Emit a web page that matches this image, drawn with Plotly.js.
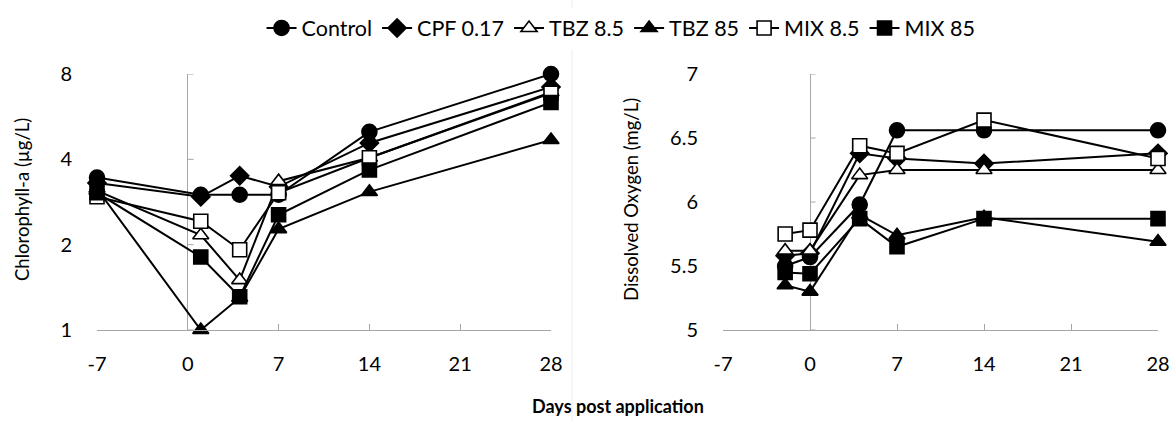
<!DOCTYPE html>
<html>
<head>
<meta charset="utf-8">
<script src="https://cdn.plot.ly/plotly-3.0.1.min.js"></script>
<style>html,body{margin:0;padding:0;background:#fff;}#chart{width:1174px;height:421px;}</style>
</head>
<body>
<div id="chart"></div>
<script>
// ---- data ----
const seriesNames = ["Control", "CPF 0.17", "TBZ 8.5", "TBZ 85", "MIX 8.5", "MIX 85"];
const daysChl = [-7, 1, 4, 7, 14, 28];
const daysDO  = [-2, 0, 4, 7, 14, 28];

// Chlorophyll-a (µg/L)
const chlControl = [3.45, 3.0, 3.0, 3.0, 5.0, 8.0];
const chlCPF     = [3.3, 2.95, 3.5, 3.2, 4.57, 7.2];
const chlTBZ8    = [3.1, 2.16, 1.5, 3.35, 4.05, 6.9];
const chlTBZ85   = [3.15, 1.0, 1.3, 2.27, 3.07, 4.68];
const chlMIX8    = [2.95, 2.42, 1.92, 3.05, 4.05, 6.85];
const chlMIX85   = [3.05, 1.81, 1.31, 2.55, 3.67, 6.35];

// Dissolved oxygen (mg/L)
const doControl = [5.50, 5.57, 5.98, 6.56, 6.56, 6.56];
const doCPF     = [5.58, 5.60, 6.38, 6.34, 6.30, 6.38];
const doTBZ8    = [5.62, 5.62, 6.21, 6.25, 6.25, 6.25];
const doTBZ85   = [5.35, 5.30, 5.90, 5.74, 5.88, 5.69];
const doMIX8    = [5.75, 5.78, 6.44, 6.38, 6.64, 6.34];
const doMIX85   = [5.45, 5.44, 5.87, 5.65, 5.87, 5.87];

const xTicks = [-7, 0, 7, 14, 21, 28];
const chlTicks = [1, 2, 4, 8];
const doTicks = [5, 5.5, 6, 6.5, 7];

// ---- styling ----
const FONT = "Lato, Carlito, Calibri, 'DejaVu Sans', sans-serif";
const AXC = "#a6a6a6";
const markerStyles = [
  {symbol: "circle", size: 15, color: "#000"},
  {symbol: "diamond", size: 14, color: "#000"},
  {symbol: "triangle-up", size: 14, color: "#fff"},
  {symbol: "triangle-up", size: 14, color: "#000"},
  {symbol: "square", size: 14, color: "#fff"},
  {symbol: "square", size: 14, color: "#000"}
];
const chlData = [chlControl, chlCPF, chlTBZ8, chlTBZ85, chlMIX8, chlMIX85];
const doData  = [doControl, doCPF, doTBZ8, doTBZ85, doMIX8, doMIX85];

const traces = [];
function mk(i, x, y, xa, ya, legend) {
  const m = markerStyles[i];
  return {
    type: "scatter", mode: "lines+markers", name: seriesNames[i],
    x: x, y: y, xaxis: xa, yaxis: ya, showlegend: legend, cliponaxis: false,
    line: {color: "#000", width: 2},
    marker: {symbol: m.symbol, size: m.size, color: m.color, line: {color: "#000", width: 1.6}},
    hoverinfo: "x+y+name"
  };
}

// small tick marks on the vertical axes (which cross at day 0)
function tickTrace(vals, xa, ya) {
  const x = [], y = [];
  vals.forEach(v => { x.push(0, 0.45, null); y.push(v, v, null); });
  return {type: "scatter", mode: "lines", x: x, y: y, xaxis: xa, yaxis: ya, showlegend: false,
          hoverinfo: "skip", line: {color: AXC, width: 1}, cliponaxis: false};
}
traces.push(tickTrace(chlTicks, "x", "y"));
traces.push(tickTrace(doTicks, "x2", "y2"));
for (let i = 0; i < 6; i++) traces.push(mk(i, daysChl, chlData[i], "x", "y", true));
for (let i = 0; i < 6; i++) traces.push(mk(i, daysDO, doData[i], "x2", "y2", false));

const W = 1174, H = 421;
const yDom = [1 - 330 / H, 1 - 74 / H];

function xAxis(dom, anchor) {
  return {
    domain: dom, anchor: anchor, range: [-7, 28], tickmode: "array", tickvals: xTicks,
    ticktext: xTicks.map(String), showgrid: false, zeroline: true, zerolinecolor: AXC, zerolinewidth: 1,
    showline: true, linecolor: AXC, linewidth: 1, ticks: "inside", ticklen: 6, tickcolor: AXC,
    tickfont: {family: FONT, size: 20, color: "#000"}, ticklabelstandoff: 16, fixedrange: true
  };
}
const layout = {
  width: W, height: H, margin: {l: 0, r: 0, t: 0, b: 0},
  paper_bgcolor: "#fff", plot_bgcolor: "rgba(0,0,0,0)",
  font: {family: FONT, color: "#000"},
  showlegend: true,
  legend: {orientation: "h", x: 0.529, xanchor: "center", y: 1 - 28 / H, yanchor: "middle",
           font: {family: FONT, size: 21.5, color: "#000"}, itemwidth: 30, tracegroupgap: 0, traceorder: "normal"},
  xaxis: xAxis([97 / W, 551 / W], "y"),
  xaxis2: xAxis([723 / W, 1158 / W], "y2"),
  yaxis: {
    domain: yDom, anchor: "x", type: "log", range: [0, Math.log10(8)], tickmode: "array",
    tickvals: chlTicks, ticktext: chlTicks.map(String), showgrid: false, zeroline: false, showline: false,
    ticks: "", tickfont: {family: FONT, size: 20, color: "#000"}, ticklabelstandoff: 24,
    fixedrange: true
  },
  yaxis2: {
    domain: yDom, anchor: "x2", range: [5, 7], tickmode: "array", tickvals: doTicks,
    ticktext: doTicks.map(String), showgrid: false, zeroline: false, showline: false,
    ticks: "", tickfont: {family: FONT, size: 20, color: "#000"}, ticklabelstandoff: 24,
    fixedrange: true
  },
  annotations: [
    {text: "<b>Days post application</b>", xref: "paper", yref: "paper",
     x: 618 / W, y: 1 - 406 / H, xanchor: "center", yanchor: "middle", showarrow: false, borderpad: 0,
     font: {family: FONT, size: 18, color: "#000"}},
    {text: "Chlorophyll-a (µg/L)", xref: "paper", yref: "paper", textangle: -90,
     x: 22 / W, y: 1 - 200 / H, xanchor: "center", yanchor: "middle", showarrow: false,
     font: {family: FONT, size: 18.5, color: "#000"}},
    {text: "Dissolved Oxygen (mg/L)", xref: "paper", yref: "paper", textangle: -90,
     x: 631 / W, y: 1 - 200 / H, xanchor: "center", yanchor: "middle", showarrow: false,
     font: {family: FONT, size: 18.5, color: "#000"}}
  ],
  shapes: [{type: "line", xref: "paper", yref: "paper", x0: 572 / W, x1: 572 / W, y0: 0, y1: 1,
            line: {color: "#ececec", width: 1}}]
};
Plotly.newPlot("chart", traces, layout, {displayModeBar: false, staticPlot: true});
</script>
</body>
</html>
